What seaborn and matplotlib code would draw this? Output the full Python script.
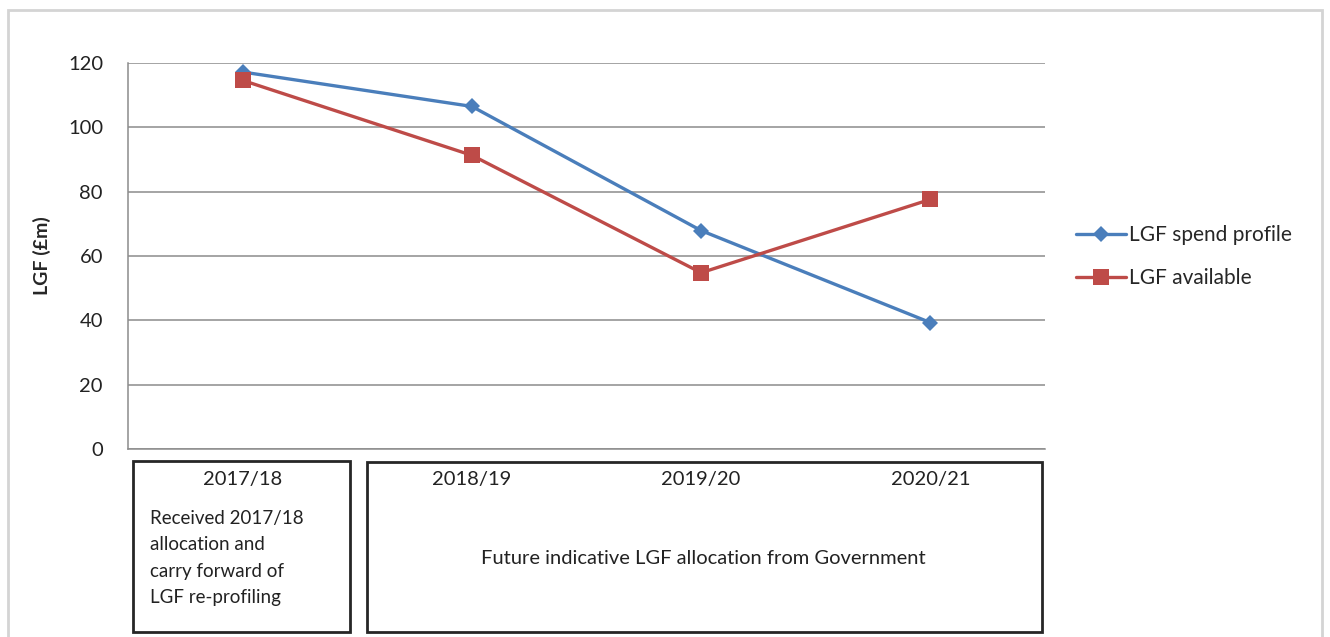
import pandas as pd
import numpy as np
import matplotlib
matplotlib.use("Agg")
import matplotlib.pyplot as plt
from matplotlib.patches import Rectangle
import seaborn as sns

# Values
years = ["2017/18", "2018/19", "2019/20", "2020/21"]
spend_profile = [117.2, 106.5, 67.9, 39.3]
available = [114.6, 91.3, 54.8, 77.6]
series_names = ["LGF spend profile", "LGF available"]
y_ticks = [0, 20, 40, 60, 80, 100, 120]
note_left = "Received 2017/18\nallocation and\ncarry forward of\nLGF re-profiling"
note_right = "Future indicative LGF allocation from Government"

df = pd.DataFrame({
    "year": years * 2,
    "value": spend_profile + available,
    "series": [series_names[0]] * 4 + [series_names[1]] * 4,
})

sns.set_theme(style="white")
plt.rcParams["font.family"] = ["Lato", "DejaVu Sans"]

W, H = 1330, 637
fig = plt.figure(figsize=(13.3, 6.37), dpi=100)

def fx(px):
    return px / W

def fy(py):
    return 1 - py / H

ax = fig.add_axes([fx(128), fy(449), fx(1045) - fx(128), fy(63) - fy(449)])

blue = "#4A7EBB"
red = "#BE4B48"
sns.lineplot(data=df, x="year", y="value", hue="series", style="series",
             palette={series_names[0]: blue, series_names[1]: red},
             markers={series_names[0]: "D", series_names[1]: "s"},
             dashes=False, linewidth=2.4, markersize=9,
             markeredgewidth=0, ax=ax, sort=False)
# bigger squares than diamonds, as in the reference
for line in ax.lines:
    if line.get_marker() == "s":
        line.set_markersize(11)
    elif line.get_marker() == "D":
        line.set_markersize(8)

ax.set_xlim(-0.5, 3.5)
ax.set_ylim(0, 120)
ax.set_yticks(y_ticks)
ax.set_yticklabels([str(v) for v in y_ticks], fontsize=14.5, color="#222222")
ax.yaxis.grid(True, color="#8c8c8c", linewidth=1.1)
ax.set_axisbelow(True)

ax.set_xticks(range(len(years)))
ax.set_xticklabels(years, fontsize=14.5, color="#222222")
ax.tick_params(axis="x", which="major", length=0, pad=16)
ax.set_xticks([0.5, 1.5, 2.5], minor=True)
ax.tick_params(axis="x", which="minor", length=5, color="#8c8c8c", width=1)
ax.tick_params(axis="y", length=0, pad=18)

for side in ["top", "right"]:
    ax.spines[side].set_visible(False)
for side in ["left", "bottom"]:
    ax.spines[side].set_color("#8c8c8c")
    ax.spines[side].set_linewidth(1.1)

ax.set_xlabel("")
ax.set_ylabel("LGF (£m)", fontsize=14, fontweight="bold", labelpad=12)

ax.get_legend().remove()
handles, labels = ax.get_legend_handles_labels()
fig.legend(handles, labels, loc="upper left",
           bbox_to_anchor=(fx(1068), fy(217)), frameon=False,
           fontsize=15, handlelength=2.4, handletextpad=0.15,
           labelspacing=1.1, borderaxespad=0)

# boxes underneath the axis
box_kw = dict(fill=False, edgecolor="#262626", linewidth=2, transform=fig.transFigure)
fig.patches.append(Rectangle((fx(133), fy(632)), fx(350) - fx(133), fy(461) - fy(632), **box_kw))
fig.patches.append(Rectangle((fx(367), fy(632)), fx(1042) - fx(367), fy(462) - fy(632), **box_kw))

fig.text(fx(150), fy(558), note_left, ha="left", va="center",
         fontsize=13.5, color="#222222", linespacing=1.68)
fig.text(fx(703), fy(558), note_right, ha="center", va="center",
         fontsize=14.5, color="#222222")

# light outer frame
fig.patches.append(Rectangle((fx(8), fy(645)), fx(1322) - fx(8), fy(10) - fy(645),
                             fill=False, edgecolor="#d4d4d4", linewidth=2,
                             transform=fig.transFigure))

fig.savefig("out.png", dpi=100)
